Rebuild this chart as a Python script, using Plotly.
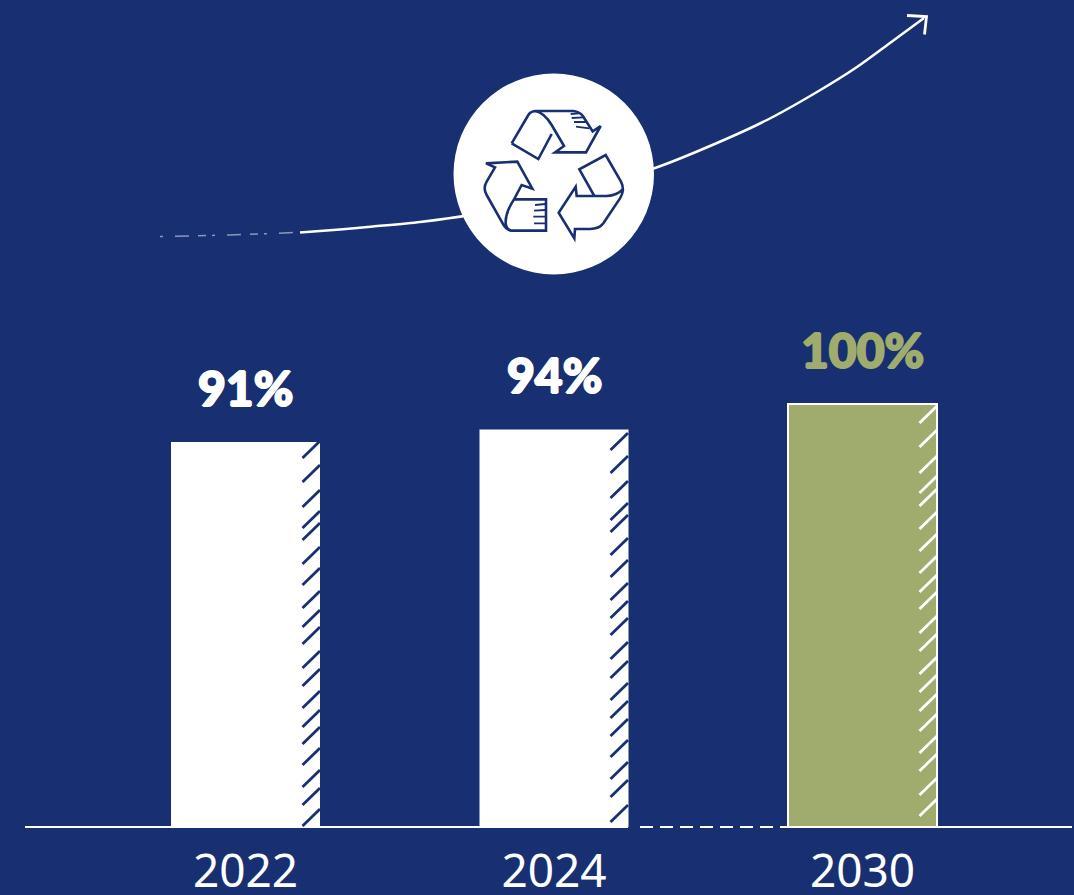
import plotly.graph_objects as go

# Chart data
years = ["2022", "2024", "2030"]
shares = [91, 94, 100]
share_labels = ["91%", "94%", "100%"]

NAVY = "#183071"
WHITE = "#FFFFFF"
GREEN = "#9FAC6E"
bar_colors = [WHITE, WHITE, GREEN]
hatch_colors = [NAVY, NAVY, WHITE]
label_colors = [WHITE, WHITE, GREEN]

# Page geometry
WIDTH, HEIGHT = 1074, 895
BASE_PX = 827
PLOT_BOTTOM_PX = 835
FIRST_BAR_PX = 245.5
BAR_STEP_PX = 308.5
PX_PER_UNIT = 4.23
BAR_WIDTH = 149 / BAR_STEP_PX
positions = list(range(len(years)))


def to_x(px):
    return (px - FIRST_BAR_PX) / BAR_STEP_PX


def to_y(py):
    return (BASE_PX - py) / PX_PER_UNIT


def paper_x(px):
    return px / WIDTH


def paper_y(py):
    return (PLOT_BOTTOM_PX - py) / PLOT_BOTTOM_PX


# Hand-drawn tick strokes along each bar's right edge: page row of each lower end
hatch_rows = [
    [458, 482, 507, 528, 540, 564, 585, 608, 627, 644, 668, 686, 708, 727, 744, 765, 787, 805, 826],
    [450, 473, 498, 520, 532, 555, 577, 600, 618, 635, 659, 678, 700, 718, 736, 757, 779, 797, 822],
    [423, 447, 473, 493, 506, 529, 551, 573, 592, 609, 633, 651, 674, 692, 711, 731, 753, 771, 795, 816],
]
bar_right_px = [320, 628, 937]

fig = go.Figure()

# Background sketch arrow, rising behind the recycling badge
faint_x = [160, 195, 230, 273, 307]
faint_y = [236.5, 236, 235, 233.5, 232]
fig.add_trace(go.Scatter(
    x=[to_x(v) for v in faint_x], y=[to_y(v) for v in faint_y], mode="lines",
    line=dict(color="rgba(255,255,255,0.5)", width=1.5, dash="3px,12px,14px,9px,8px,6px"),
    hoverinfo="skip", showlegend=False,
))
arrow_x = [300, 340, 373, 420, 470, 560, 655, 717, 767, 817, 857, 890, 924]
arrow_y = [232.5, 229.5, 226.5, 222, 215, 195, 168, 143, 120, 92, 67, 43, 18]
fig.add_trace(go.Scatter(
    x=[to_x(v) for v in arrow_x], y=[to_y(v) for v in arrow_y], mode="lines",
    line=dict(color=WHITE, width=2.5, shape="spline", smoothing=0.8),
    hoverinfo="skip", showlegend=False,
))
head_x = [907, 926.5, 924.5]
head_y = [15.5, 16.5, 34.5]
fig.add_trace(go.Scatter(
    x=[to_x(v) for v in head_x], y=[to_y(v) for v in head_y], mode="lines",
    line=dict(color=WHITE, width=2.8), hoverinfo="skip", showlegend=False,
))

# Baseline: solid through the bars, dashed across the gap before 2030
fig.add_trace(go.Scatter(
    x=[to_x(25), to_x(628)], y=[0, 0], mode="lines",
    line=dict(color=WHITE, width=2.2),
    hoverinfo="skip", showlegend=False,
))
fig.add_trace(go.Scatter(
    x=[to_x(640), to_x(788)], y=[0, 0], mode="lines",
    line=dict(color=WHITE, width=2.2, dash="13px,7px"),
    hoverinfo="skip", showlegend=False,
))
fig.add_trace(go.Scatter(
    x=[to_x(937), to_x(1072)], y=[0, 0], mode="lines",
    line=dict(color=WHITE, width=2.2),
    hoverinfo="skip", showlegend=False,
))

# Bars
fig.add_trace(go.Bar(
    x=positions, y=shares, width=BAR_WIDTH,
    marker=dict(color=bar_colors, line=dict(color=[bar_colors[0], bar_colors[1], WHITE], width=[0, 0, 2])),
    hoverinfo="skip", showlegend=False,
))

# Edge strokes on top of the bars
for rows, right, color in zip(hatch_rows, bar_right_px, hatch_colors):
    xs, ys = [], []
    for row in rows:
        xs += [to_x(right - 17.5), to_x(right), None]
        ys += [to_y(row), to_y(row - 17), None]
    fig.add_trace(go.Scatter(
        x=xs, y=ys, mode="lines", line=dict(color=color, width=2.8),
        hoverinfo="skip", showlegend=False,
    ))


def zoom_pt(u, v):
    """Icon outlines are authored on a 3x grid anchored at page point (440, 60)."""
    return f"{paper_x(440 + u / 3):.5f},{paper_y(60 + v / 3):.5f}"


def icon_path(commands):
    parts = []
    for cmd, *pts in commands:
        parts.append(cmd + " ".join(zoom_pt(*p) for p in pts))
    return " ".join(parts)


top_arrow = [
    ("M", (215, 250)), ("L", (265, 165)), ("Q", (272, 153), (290, 153)), ("L", (400, 153)),
    ("Q", (420, 155), (430, 170)), ("L", (458, 214)), ("L", (482, 198)), ("L", (438, 277)),
    ("L", (345, 277)), ("L", (372, 258)), ("L", (335, 195)), ("Q", (312, 157), (285, 153)),
    ("M", (335, 222)), ("L", (295, 297)), ("L", (215, 250)),
]
right_arrow = [
    ("M", (463, 408)), ("L", (418, 328)), ("L", (497, 285)), ("L", (543, 365)),
    ("Q", (556, 390), (540, 415)), ("L", (490, 490)), ("Q", (478, 507), (450, 507)),
    ("L", (405, 507)), ("L", (403, 535)), ("L", (356, 458)), ("L", (407, 380)),
    ("L", (410, 408)), ("L", (500, 408)), ("Q", (532, 406), (548, 388)),
]
left_arrow = [
    ("M", (138, 310)), ("L", (232, 305)), ("L", (277, 386)), ("L", (245, 375)),
    ("L", (222, 418)), ("L", (318, 418)), ("L", (318, 512)), ("L", (215, 512)),
    ("Q", (197, 510), (185, 485)), ("L", (140, 405)), ("Q", (128, 385), (140, 365)),
    ("L", (165, 322)), ("Z",),
    ("M", (222, 418)), ("Q", (195, 460), (197, 490)), ("Q", (200, 510), (215, 512)),
]
fold_marks = [
    ("M", (392, 162)), ("L", (418, 160)), ("M", (395, 174)), ("L", (430, 172)),
    ("M", (402, 186)), ("L", (438, 186)), ("M", (408, 200)), ("L", (448, 205)),
    ("M", (285, 435)), ("L", (316, 432)), ("M", (282, 452)), ("L", (316, 450)),
    ("M", (280, 470)), ("L", (316, 470)), ("M", (282, 490)), ("L", (316, 490)),
]

shapes = [dict(
    type="circle", xref="paper", yref="paper", layer="above",
    x0=paper_x(453.5), x1=paper_x(654), y0=paper_y(274.5), y1=paper_y(73.5),
    fillcolor=WHITE, line=dict(width=0),
)]
for outline, width in [(top_arrow, 2.6), (right_arrow, 2.6), (left_arrow, 2.6), (fold_marks, 1.8)]:
    shapes.append(dict(
        type="path", xref="paper", yref="paper", layer="above",
        path=icon_path(outline), fillcolor="rgba(0,0,0,0)",
        line=dict(color=NAVY, width=width),
    ))

# Value labels above the bars; the thin shadow thickens the letterforms
annotations = [
    dict(x=pos, y=val, xref="x", yref="y", text=lab, showarrow=False,
         yanchor="bottom", xanchor="center", yshift=24,
         font=dict(family="Lato", size=48, color=col, weight=900,
                   shadow=f"1px 0 0 {col}, -1px 0 0 {col}, 0 1px 0 {col}, 0 -1px 0 {col}"))
    for pos, val, lab, col in zip(positions, shares, share_labels, label_colors)
]

fig.update_layout(
    width=WIDTH, height=HEIGHT,
    margin=dict(l=0, r=0, t=0, b=HEIGHT - PLOT_BOTTOM_PX, pad=0, autoexpand=False),
    paper_bgcolor=NAVY, plot_bgcolor=NAVY,
    showlegend=False, shapes=shapes, annotations=annotations,
    xaxis=dict(
        range=[to_x(0), to_x(WIDTH)], tickmode="array", tickvals=positions, ticktext=years,
        showgrid=False, zeroline=False, showline=False, ticks="",
        tickfont=dict(family="Noto Sans", size=46, color=WHITE), ticklabelstandoff=5,
        automargin=False, fixedrange=True,
    ),
    yaxis=dict(
        range=[to_y(PLOT_BOTTOM_PX), to_y(0)], visible=False, showgrid=False, zeroline=False,
        fixedrange=True,
    ),
)

fig.write_html("out.html", config={"displayModeBar": False})
